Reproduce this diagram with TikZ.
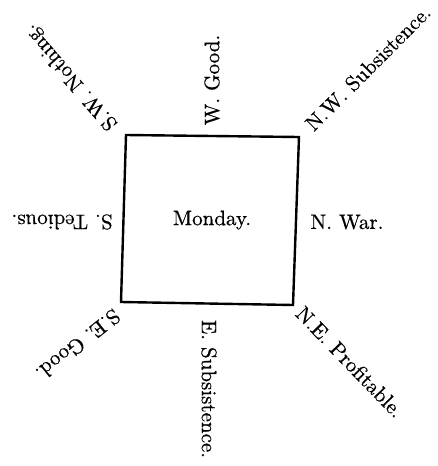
\documentclass[tikz,border=0pt]{standalone}
\usepackage{fontspec}
\setmainfont{lmroman10-regular}[Extension=.otf, FakeBold=0.6]
\begin{document}
\begin{tikzpicture}[x=1pt,y=-1pt,
  lbl/.style={font=\fontsize{21}{25}\selectfont, inner sep=0pt},
  frame/.style={line width=2.4pt, line join=miter}]
\useasboundingbox (0,0) rectangle (437,466);
\coordinate (tl) at (126,135);
\coordinate (tr) at (299,137);
\coordinate (br) at (293,305);
\coordinate (bl) at (121,302);
\draw[frame] (tl) -- (tr) -- (br) -- (bl) -- cycle;
\node[lbl] (mon) at (212,220) {Monday.};
\node[lbl] (n) at (347,222) {N. War.};
\node[lbl, rotate=180] (s) at (62,222) {S. Tedious.};
\node[lbl, rotate=90] (w) at (212,80) {W. Good.};
\node[lbl, rotate=-90] (e) at (209,389) {E. Subsistence.};
\node[lbl, rotate=45] (nw) at (368,68) {N.W. Subsistence.};
\node[lbl, rotate=131] (sw) at (71,77) {S.W. Nothing.};
\node[lbl, rotate=218.5] (se) at (78,345) {S.E. Good.};
\node[lbl, rotate=-46] (ne) at (350,362) {N.E. Profitable.};
\end{tikzpicture}
\end{document}
